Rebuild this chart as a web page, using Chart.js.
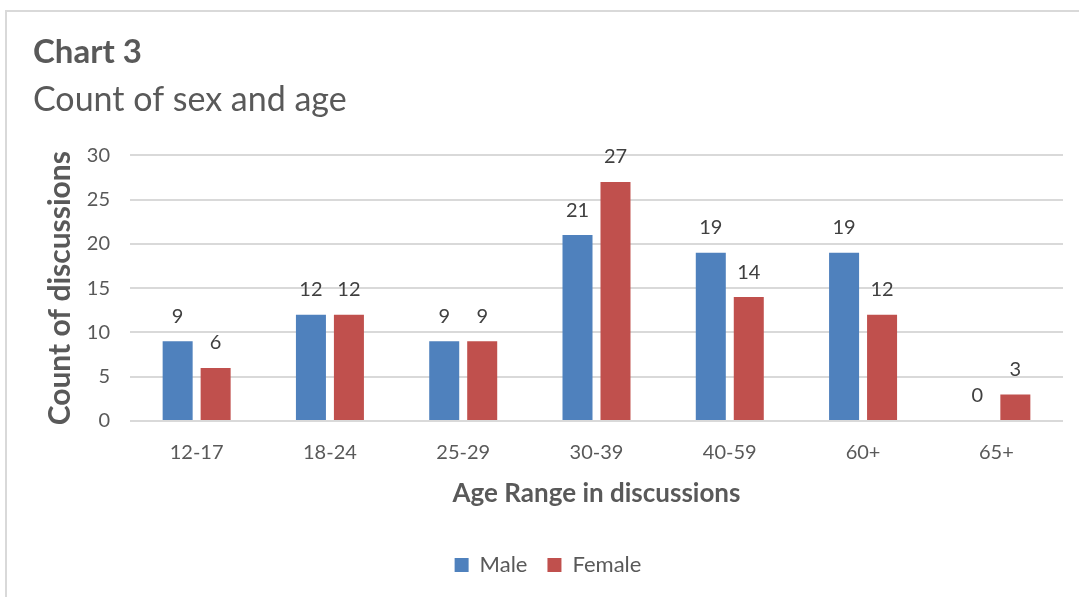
<!DOCTYPE html>
<html>
<head>
<meta charset="utf-8">
<script src="https://cdn.jsdelivr.net/npm/chart.js@4"></script>
<style>
  html, body { margin: 0; padding: 0; background: #fff; overflow: hidden; }
  #frame {
    position: absolute; left: 5px; top: 10px; width: 1100px; height: 620px;
    border: 2px solid #d9d9d9; box-sizing: border-box;
  }
  #wrap { position: absolute; left: 0; top: 0; width: 1079px; height: 597px; }
</style>
</head>
<body>
<div id="frame"></div>
<div id="wrap"><canvas id="chart"></canvas></div>
<script>
const ageRanges = ["12-17", "18-24", "25-29", "30-39", "40-59", "60+", "65+"];
const maleCounts = [9, 12, 9, 21, 19, 19, 0];
const femaleCounts = [6, 12, 9, 27, 14, 12, 3];
const yTicks = [0, 5, 10, 15, 20, 25, 30];

const textColor = "#595959";
const fontFamily = "Lato, 'Open Sans', sans-serif";

// draws the value above each bar, like the Excel data labels
const barValues = {
  id: "barValues",
  afterDatasetsDraw(chart) {
    const ctx = chart.ctx;
    ctx.save();
    ctx.fillStyle = "#404040";
    ctx.font = "20px " + fontFamily;
    ctx.textAlign = "center";
    ctx.textBaseline = "middle";
    chart.data.datasets.forEach((ds, i) => {
      chart.getDatasetMeta(i).data.forEach((bar, j) => {
        ctx.fillText(ds.data[j], bar.x, bar.y - 25);
      });
    });
    ctx.restore();
  },
};

const ctx = document.getElementById("chart").getContext("2d");
new Chart(ctx, {
  type: "bar",
  data: {
    labels: ageRanges,
    datasets: [
      { label: "Male", data: maleCounts, backgroundColor: "#4F81BD" },
      { label: "Female", data: femaleCounts, backgroundColor: "#C0504D" },
    ],
  },
  options: {
    responsive: true,
    maintainAspectRatio: false,
    animation: false,
    categoryPercentage: 0.57,
    barPercentage: 0.79,
    layout: { padding: { left: 33, right: 16, top: 30, bottom: 11 } },
    plugins: {
      title: {
        display: true,
        text: "Chart 3",
        align: "start",
        color: textColor,
        font: { family: fontFamily, size: 33, weight: "bold" },
        padding: { top: 3, bottom: 7 },
      },
      subtitle: {
        display: true,
        text: "Count of sex and age",
        align: "start",
        color: textColor,
        font: { family: fontFamily, size: 34 },
        padding: { top: 0, bottom: 35 },
      },
      legend: {
        position: "bottom",
        labels: {
          color: textColor,
          boxWidth: 14,
          boxHeight: 14,
          padding: 20,
          font: { family: fontFamily, size: 22 },
        },
      },
      tooltip: { enabled: false },
    },
    scales: {
      x: {
        afterFit: (scale) => {
          scale.height = 113;
        },
        grid: { display: false },
        border: { display: false },
        ticks: { color: textColor, font: { family: fontFamily, size: 20 }, padding: 12 },
        title: {
          display: true,
          text: "Age Range in discussions",
          color: textColor,
          font: { family: fontFamily, size: 26, weight: "bold" },
          padding: { top: 13, bottom: 25 },
        },
      },
      y: {
        min: 0,
        max: 30,
        afterBuildTicks: (scale) => {
          scale.ticks = yTicks.map((v) => ({ value: v }));
        },
        afterFit: (scale) => {
          scale.width = 97;
        },
        grid: { color: "#d9d9d9", lineWidth: 2, drawTicks: false },
        border: { display: false },
        ticks: { color: textColor, font: { family: fontFamily, size: 20 }, padding: 20 },
        title: {
          display: true,
          text: "Count of discussions",
          color: textColor,
          font: { family: fontFamily, size: 30, weight: "bold" },
          padding: { top: 9, bottom: 0 },
        },
      },
    },
  },
  plugins: [barValues],
});
</script>
</body>
</html>
